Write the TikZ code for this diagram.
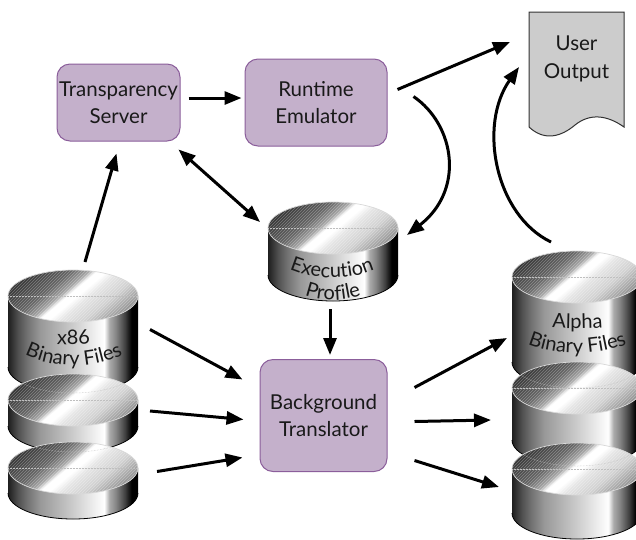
\documentclass[tikz,border=0pt]{standalone}
\usepackage{fontspec}
\setmainfont{Lato}
\usetikzlibrary{arrows.meta,calc,decorations.text,patterns}
\pgfdeclarehorizontalshading{diskside}{100bp}{
 color(0bp)=(black!88);color(25bp)=(black!88);color(29bp)=(black!68);color(32.5bp)=(black!55);
 color(37.5bp)=(black!40);color(50bp)=(black!20);color(62bp)=(white);
 color(64bp)=(black!33);color(66.5bp)=(black!48);color(70bp)=(black!75);color(72.5bp)=(black);
 color(75bp)=(black);color(100bp)=(black)}
\pgfdeclarehorizontalshading{disktop}{100bp}{
 color(0bp)=(black!80);color(32bp)=(black!80);color(42bp)=(black!60);color(46.5bp)=(black!35);
 color(48.5bp)=(white);color(51bp)=(white);color(54bp)=(black!10);color(60bp)=(black!18);color(68bp)=(black!45);color(100bp)=(black!45)}
\definecolor{boxfill}{HTML}{C4B0CB}
\definecolor{boxline}{HTML}{8B5E9B}
\tikzset{
 x=1pt,y=-1pt,
 procbox/.style={draw=boxline,fill=boxfill,line width=1pt,rounded corners=13pt,align=center,
   inner sep=0pt,font=\fontsize{20.5}{27}\selectfont,text=black!90},
 docbox/.style={draw=black!80,fill=black!20,line width=1pt},
 doctext/.style={align=center,inner sep=0pt,font=\fontsize{20.5}{28}\selectfont,text=black!90},
 flow/.style={line width=3pt,-{Triangle[length=17pt,width=13pt]},black},
 flowboth/.style={line width=3pt,{Triangle[length=17pt,width=13pt]}-{Triangle[length=17pt,width=13pt]},black},
 disktext/.style={decorate,decoration={text along path,text align=center,
   text={|\fontsize{20}{22}\selectfont\color{black!90}|#1}}},
 hidden/.style={draw=white!75!black,line width=.5pt,densely dotted},
 anchorbox/.style={inner sep=0pt,outer sep=0pt,minimum width=130pt}
}
% \diskshape{name}{cx}{cy}{side height}
\newcommand{\diskshape}[4]{%
 \shade[shading=diskside] (#2-65,#3) -- (#2-65,#3+#4) arc[start angle=180,end angle=360,x radius=65,y radius=-26]
   -- (#2+65,#3) -- cycle;
 \draw[black,line width=.8pt] (#2-65,#3+#4) arc[start angle=180,end angle=360,x radius=65,y radius=-26];
 \begin{scope}
  \clip (#2,#3) ellipse[x radius=65,y radius=26];
  \shade[shading=disktop,shading angle=-50] (#2-65,#3-65) rectangle (#2+65,#3+65);
  \fill[pattern=north east lines,pattern color=white,opacity=.3] (#2-65,#3-26) rectangle (#2+65,#3+26);
  \draw[hidden] (#2-65,#3) -- (#2+65,#3);
 \end{scope}
 \draw[black!15,line width=.7pt] (#2,#3) ellipse[x radius=65,y radius=26];
 \node[anchorbox,minimum height={#4+52pt}] (#1) at (#2,#3+#4/2) {};
}
% dotted trace of the disk above, on top of the next one
\newcommand{\diskgap}[5]{%
 \begin{scope}
  \clip (#1,#2) ellipse[x radius=65,y radius=26];
  \draw[hidden] (#3-65,#4+#5) arc[start angle=180,end angle=360,x radius=65,y radius=-26];
 \end{scope}
}
\begin{document}
\begin{tikzpicture}
\useasboundingbox (0,0) rectangle (636,539);
\fill[white] (0,0) rectangle (636,539);
% x86 stack
\diskshape{xa}{73}{296}{71}
\diskshape{xb}{73}{400}{26}
\diskgap{73}{400}{73}{296}{71}
\diskshape{xc}{73}{468}{25}
\diskgap{73}{468}{73}{400}{26}
\path[disktext={x86}] (45,343) .. controls (62,345) and (85,345) .. (102,342);
\path[disktext={Binary Files}] (20,352) .. controls (52,370) and (95,370) .. (128,352);
% Alpha stack
\diskshape{aa}{577}{277}{85}
\diskshape{ab}{577}{388}{52}
\diskgap{577}{388}{577}{277}{85}
\diskshape{ac}{577}{469}{44}
\diskgap{577}{469}{577}{388}{52}
\path[disktext={Alpha}] (545,327) .. controls (562,329) and (592,329) .. (610,327);
\path[disktext={Binary Files}] (523,342) .. controls (552,357) and (600,357) .. (632,342);
% Execution profile
\diskshape{ep}{333}{228}{47}
\path[disktext={Execution}] (286,268) .. controls (312,281) and (352,281) .. (378,268);
\path[disktext={Profile}] (302,294) .. controls (320,302) and (345,302) .. (364,294);
% process boxes
\node[procbox,minimum width=123pt,minimum height=77pt] (ts) at (118.5,102.5) {Transparency\\Server};
\node[procbox,minimum width=142pt,minimum height=87pt] (re) at (316,102.5) {Runtime\\Emulator};
\node[procbox,minimum width=127pt,minimum height=112pt] (bt) at (323.5,415.5) {Background\\Translator};
% user output
\draw[docbox] (529,12) -- (624,12) -- (624,127) .. controls (607,115) and (590,113) .. (575,125)
  .. controls (562,136) and (545,142) .. (529,127) -- cycle;
\node[doctext] (uo) at (576.5,59) {User\\Output};
% connectors
\draw[flow] ($(ts.east)+(8,-4.5)$) -- ($(re.west)+(-3,-4.5)$);
\draw[flow] ($(xa.north)+(12,-8)$) -- ($(ts.south)+(-2,12)$);
\draw[flowboth] ($(ts.south east)+(-2,8)$) -- ($(ep.north west)+(-8,20)$);
\draw[flow] ($(re.east)+(10,-13)$) -- ($(uo.center)+(-66.5,-17)$);
\draw[flow] ($(re.east)+(26,-6)$) .. controls (455,125) and (465,190) .. ($(ep.north east)+(9,33)$);
\draw[flow] ($(ep.south)+(-3,8)$) -- ($(bt.north)+(6.5,-4)$);
\draw[flow] ($(xa.east)+(12,-2)$) -- ($(bt.west)+(-17,-36)$);
\draw[flow] ($(xb.east)+(12,-2)$) -- ($(bt.west)+(-16,4)$);
\draw[flow] ($(xc.east)+(19,-9)$) -- ($(bt.west)+(-17,42)$);
\draw[flow] ($(bt.east)+(27,-28)$) -- ($(aa.west)+(-5,18.5)$);
\draw[flow] ($(bt.east)+(27,6)$) -- ($(ab.west)+(-21,6)$);
\draw[flow] ($(bt.east)+(27,45)$) -- ($(ac.west)+(-13,-4)$);
\draw[flow] ($(aa.north)+(-26,-9)$) .. controls (495,215) and (478,125) .. ($(uo.center)+(-57.5,8)$);
\end{tikzpicture}
\end{document}
